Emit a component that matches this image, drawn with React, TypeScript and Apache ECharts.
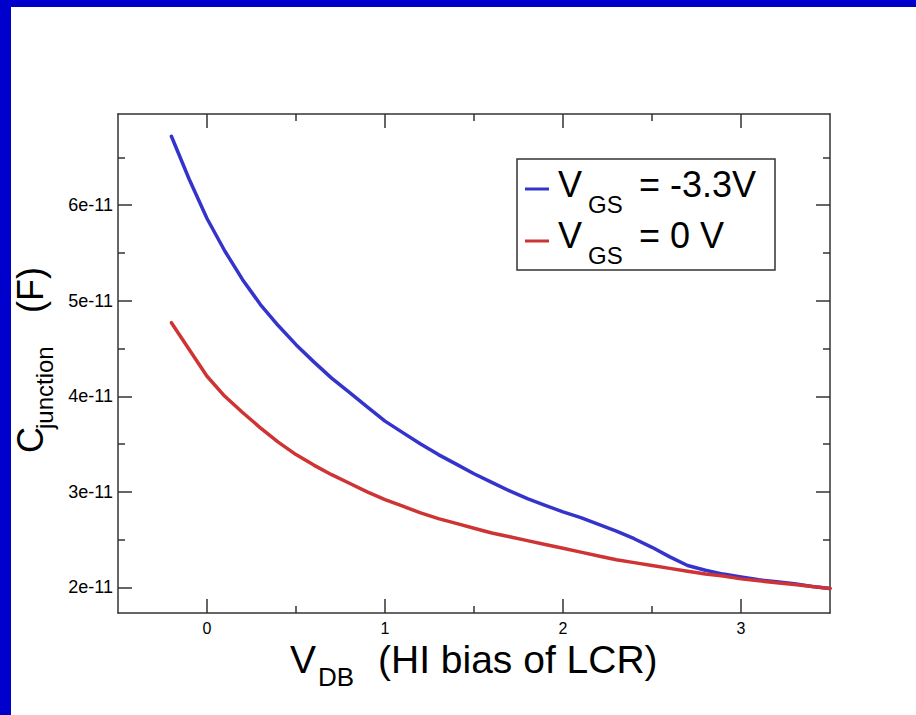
import React, { useEffect, useRef } from "react";
import * as echarts from "echarts";

// V_DB (V)
const vdb = [
  -0.2, -0.1, 0, 0.1, 0.2, 0.3, 0.4, 0.5, 0.6, 0.7, 0.8, 0.9, 1.0, 1.1, 1.2, 1.3, 1.4, 1.5, 1.6,
  1.7, 1.8, 1.9, 2.0, 2.1, 2.2, 2.3, 2.4, 2.5, 2.6, 2.7, 2.8, 2.9, 3.0, 3.1, 3.2, 3.3, 3.4, 3.5,
];
// C_junction (F) for VGS = -3.3 V
const cNeg33 = [
  6.72e-11, 6.27e-11, 5.86e-11, 5.52e-11, 5.22e-11, 4.96e-11, 4.74e-11, 4.54e-11, 4.36e-11,
  4.19e-11, 4.04e-11, 3.89e-11, 3.74e-11, 3.62e-11, 3.5e-11, 3.39e-11, 3.29e-11, 3.19e-11,
  3.1e-11, 3.01e-11, 2.93e-11, 2.86e-11, 2.79e-11, 2.73e-11, 2.66e-11, 2.59e-11, 2.51e-11,
  2.42e-11, 2.32e-11, 2.23e-11, 2.18e-11, 2.14e-11, 2.11e-11, 2.08e-11, 2.06e-11, 2.04e-11,
  2.01e-11, 1.99e-11,
];
// C_junction (F) for VGS = 0 V
const cZero = [
  4.77e-11, 4.49e-11, 4.21e-11, 4.0e-11, 3.83e-11, 3.67e-11, 3.52e-11, 3.39e-11, 3.28e-11,
  3.18e-11, 3.09e-11, 3.0e-11, 2.92e-11, 2.85e-11, 2.78e-11, 2.72e-11, 2.67e-11, 2.62e-11,
  2.57e-11, 2.53e-11, 2.49e-11, 2.45e-11, 2.41e-11, 2.37e-11, 2.33e-11, 2.29e-11, 2.26e-11,
  2.23e-11, 2.2e-11, 2.17e-11, 2.14e-11, 2.12e-11, 2.09e-11, 2.07e-11, 2.05e-11, 2.03e-11,
  2.01e-11, 1.99e-11,
];

const xMajor = [0, 1, 2, 3];
const xMinor = [0.5, 1.5, 2.5];
const yMajor = [2e-11, 3e-11, 4e-11, 5e-11, 6e-11];
const yMinor = [2.5e-11, 3.5e-11, 4.5e-11, 5.5e-11, 6.5e-11];

const X_MIN = -0.5;
const X_MAX = 3.5;
const Y_MIN = 1.733e-11;
const Y_MAX = 6.953e-11;

const BLUE = "#3434cc";
const RED = "#cf3434";
const AX = "#333333";
const FONT = "Liberation Sans";

export default function App() {
  const ref = useRef<HTMLDivElement>(null);

  useEffect(() => {
    if (!ref.current) return;
    const chart = echarts.init(ref.current, undefined, { renderer: "svg" });

    const axisLine = { show: true, onZero: false, lineStyle: { color: AX, width: 1.5 } };
    const noLine = { show: false, onZero: false };
    const mkX = (position: string, ticks: number[], len: number, labels: boolean, line: boolean) => ({
      type: "value",
      position,
      min: X_MIN,
      max: X_MAX,
      splitLine: { show: false },
      axisLine: line ? axisLine : noLine,
      axisTick: { show: true, inside: true, length: len, customValues: ticks, lineStyle: { color: AX, width: 1.5 } },
      axisLabel: labels
        ? { show: true, customValues: ticks, fontSize: 16, color: "#000", fontFamily: FONT, margin: 7 }
        : { show: false },
    });
    const mkY = (position: string, ticks: number[], len: number, labels: boolean, line: boolean) => ({
      type: "value",
      position,
      min: Y_MIN,
      max: Y_MAX,
      splitLine: { show: false },
      axisLine: line ? axisLine : noLine,
      axisTick: { show: true, inside: true, length: len, customValues: ticks, lineStyle: { color: AX, width: 1.5 } },
      axisLabel: labels
        ? {
            show: true,
            customValues: ticks,
            fontSize: 18,
            color: "#000",
            fontFamily: FONT,
            margin: 5,
            formatter: (v: number) => `${Math.round(v * 1e11)}e-11`,
          }
        : { show: false },
    });

    const txt = (x: number, y: number, text: string, size: number) => ({
      type: "text",
      x,
      y,
      z: 60,
      style: {
        text,
        fontSize: size,
        lineHeight: Math.round(size * 0.8),
        fontFamily: FONT,
        fill: "#000",
        verticalAlign: "middle",
        align: "left",
      },
    });
    const seg = (y: number, color: string) => ({
      type: "line",
      z: 60,
      shape: { x1: 525, y1: y, x2: 549, y2: y },
      style: { stroke: color, lineWidth: 3 },
    });

    chart.setOption({
      animation: false,
      backgroundColor: "#ffffff",
      grid: { left: 118, top: 114, right: 86, bottom: 102, containLabel: false },
      xAxis: [
        mkX("bottom", xMajor, 14, true, true),
        mkX("bottom", xMinor, 7, false, false),
        mkX("top", xMajor, 14, false, true),
        mkX("top", xMinor, 7, false, false),
      ],
      yAxis: [
        mkY("left", yMajor, 14, true, true),
        mkY("left", yMinor, 7, false, false),
        mkY("right", yMajor, 14, false, true),
        mkY("right", yMinor, 7, false, false),
      ],
      series: [
        {
          name: "VGS = -3.3V",
          type: "line",
          xAxisIndex: 0,
          yAxisIndex: 0,
          showSymbol: false,
          smooth: false,
          lineStyle: { color: BLUE, width: 3.5, join: "round", cap: "round" },
          itemStyle: { color: BLUE },
          data: vdb.map((x, i) => [x, cNeg33[i]]),
          z: 3,
        },
        {
          name: "VGS = 0 V",
          type: "line",
          xAxisIndex: 0,
          yAxisIndex: 0,
          showSymbol: false,
          smooth: false,
          lineStyle: { color: RED, width: 3.5, join: "round", cap: "round" },
          itemStyle: { color: RED },
          data: vdb.map((x, i) => [x, cZero[i]]),
          z: 4,
        },
      ],
      graphic: [
        { type: "rect", shape: { x: 0, y: 0, width: 916, height: 7 }, style: { fill: "#0000cc" }, z: 100 },
        { type: "rect", shape: { x: 0, y: 0, width: 11, height: 715 }, style: { fill: "#0000cc" }, z: 100 },
        // legend
        {
          type: "rect",
          z: 50,
          shape: { x: 517, y: 159, width: 258, height: 111 },
          style: { fill: "#ffffff", stroke: AX, lineWidth: 1.5 },
        },
        seg(189, BLUE),
        seg(241, RED),
        txt(558, 184, "V", 36),
        txt(588, 204, "GS", 24),
        txt(639, 184, "= -3.3V", 36),
        txt(558, 235.5, "V", 36),
        txt(588, 255.5, "GS", 24),
        txt(639, 235.5, "= 0 V", 36),
        // x axis title
        txt(290, 659, "V", 39),
        txt(318, 677, "DB", 26),
        txt(378, 659, "(HI bias of LCR)", 39),
        // y axis title
        {
          type: "group",
          x: 30,
          y: 453,
          rotation: Math.PI / 2,
          children: [txt(0, 0, "C", 36), txt(24, 14, "junction", 24), txt(140, 0, "(F)", 36)],
        },
      ],
    });

    return () => chart.dispose();
  }, []);

  return (
    <div
      ref={ref}
      style={{ position: "absolute", left: 0, top: 0, width: 916, height: 715, background: "#fff" }}
    />
  );
}
